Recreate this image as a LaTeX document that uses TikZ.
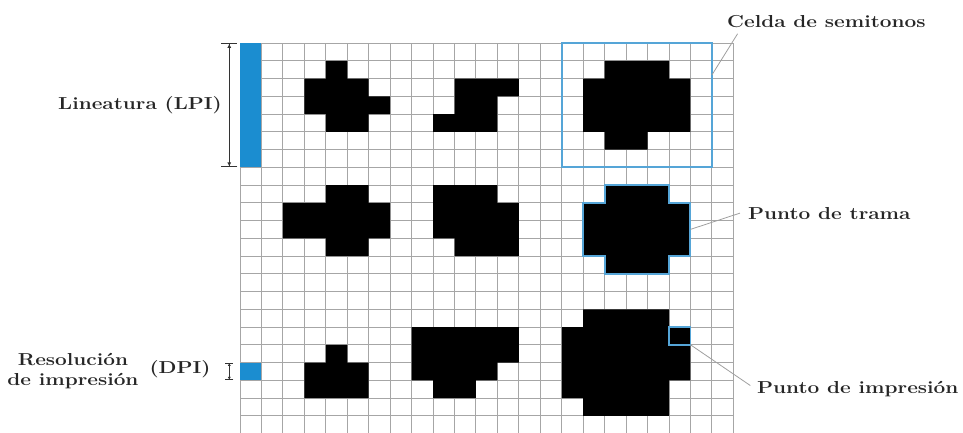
\documentclass[tikz,border=0pt]{standalone}
\usepackage{xcolor}
\usepackage{tikz}
\usetikzlibrary{arrows.meta,positioning}

\definecolor{barblue}{RGB}{27,141,208}
\definecolor{cellblue}{RGB}{85,165,215}
\newcommand{\wide}[1]{\scalebox{1.2}[1]{#1}}

\begin{document}
\begin{tikzpicture}[
  x=16.0875pt, y=-13.3125pt,
  >=Latex,
  gridline/.style={draw=gray!70, line width=0.7pt},
  dot/.style={fill=black},
  cellbox/.style={draw=cellblue, line width=1.5pt},
  leader/.style={draw=gray!75, line width=0.6pt},
  dimline/.style={draw=black!80, line width=0.6pt, {Bar[width=12pt]Latex[length=3pt,width=3pt]}-{Latex[length=3pt,width=3pt]Bar[width=12pt]}},
  dimsmall/.style={draw=black!80, line width=0.6pt, {Bar[width=6pt]Latex[length=2pt,width=2.5pt]}-{Latex[length=2pt,width=2.5pt]Bar[width=6pt]}},
  lbl/.style={font=\fontsize{13}{15}\bfseries\selectfont, text=black!85, inner sep=0pt}
]
\useasboundingbox (-11.189,-2.423) rectangle (33.706,21.915);

% grid of printer dots
\foreach \i in {0,...,23} \draw[gridline] (\i,0) -- (\i,22);
\foreach \j in {0,...,21} \draw[gridline] (0,\j) -- (23,\j);

% markers in the first column
\fill[barblue] (0,0) rectangle (1,7);
\fill[barblue] (0,18) rectangle (1,19);

% halftone dots, top row
\fill[dot] (4,1) -- (5,1) -- (5,2) -- (6,2) -- (6,3) -- (7,3) -- (7,4) -- (6,4) -- (6,5) -- (4,5) -- (4,4) -- (3,4) -- (3,2) -- (4,2) -- cycle;
\fill[dot] (10,2) -- (13,2) -- (13,3) -- (12,3) -- (12,5) -- (9,5) -- (9,4) -- (10,4) -- cycle;
\fill[dot] (17,1) -- (20,1) -- (20,2) -- (21,2) -- (21,5) -- (19,5) -- (19,6) -- (17,6) -- (17,5) -- (16,5) -- (16,2) -- (17,2) -- cycle;
\draw[cellbox] (15,0) rectangle (22,7);

% middle row
\fill[dot] (4,8) -- (6,8) -- (6,9) -- (7,9) -- (7,11) -- (6,11) -- (6,12) -- (4,12) -- (4,11) -- (2,11) -- (2,9) -- (4,9) -- cycle;
\fill[dot] (9,8) -- (12,8) -- (12,9) -- (13,9) -- (13,12) -- (10,12) -- (10,11) -- (9,11) -- cycle;
\filldraw[dot, cellbox] (17,8) -- (20,8) -- (20,9) -- (21,9) -- (21,12) -- (20,12) -- (20,13) -- (17,13) -- (17,12) -- (16,12) -- (16,9) -- (17,9) -- cycle;

% bottom row
\fill[dot] (4,17) -- (5,17) -- (5,18) -- (6,18) -- (6,20) -- (3,20) -- (3,18) -- (4,18) -- cycle;
\fill[dot] (8,16) -- (13,16) -- (13,18) -- (12,18) -- (12,19) -- (11,19) -- (11,20) -- (9,20) -- (9,19) -- (8,19) -- cycle;
\fill[dot] (16,15) -- (20,15) -- (20,16) -- (21,16) -- (21,19) -- (20,19) -- (20,21) -- (16,21) -- (16,20) -- (15,20) -- (15,16) -- (16,16) -- cycle;
\draw[cellbox, line width=1.2pt] (20,16) rectangle (21,17);

% labels
\node[lbl, anchor=base west] (celda) at (22.70,-0.885) {\wide{Celda de semitonos}};
\node[lbl, anchor=base west] (trama) at (23.68,9.92) {\wide{Punto de trama}};
\node[lbl, anchor=base west] (impresion) at (24.10,19.77) {\wide{Punto de impresión}};
\node[lbl, anchor=east] (lpi) at (-0.84,3.5) {\wide{Lineatura (LPI)}};
\node[lbl] (res) at (-7.79,18.48) {\wide{\begin{tabular}{@{}c@{}}Resolución\\de impresión\end{tabular}}};
\node[lbl] (dpi) at (-2.80,18.37) {\wide{(DPI)}};

\coordinate (celdaleg) at (22,1.8);
\coordinate (tramaleg) at (21,10.5);
\coordinate (impleg) at (21,17);
\coordinate (lpitop) at (-0.5,0);
\coordinate (lpibot) at (-0.5,7);
\coordinate (dpitop) at (-0.5,18);
\coordinate (dpibot) at (-0.5,19);

\draw[leader] (celdaleg) -- ([xshift=8pt,yshift=-4.5pt]celda.south west);
\draw[leader] (tramaleg) -- ([xshift=-6pt]trama.west);
\draw[leader] (impleg) -- ([xshift=-5pt,yshift=3pt]impresion.west);
\draw[dimline] (lpitop) -- (lpibot);
\draw[dimsmall] (dpitop) -- (dpibot);
\end{tikzpicture}
\end{document}
